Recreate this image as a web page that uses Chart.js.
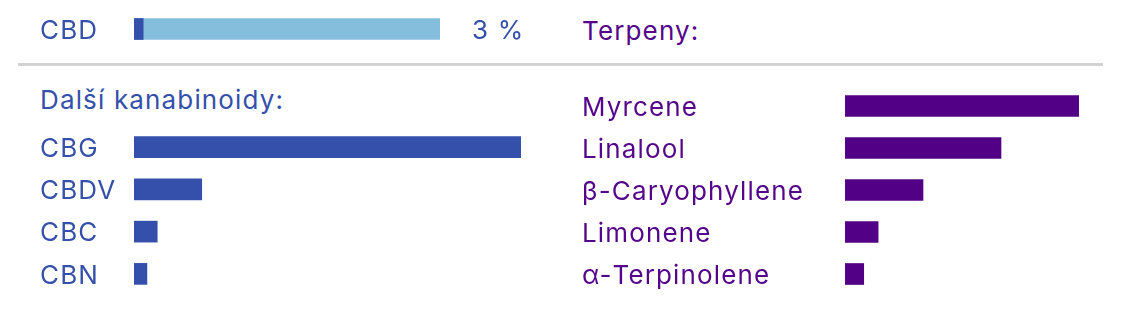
<!DOCTYPE html>
<html lang="cs">
<head>
<meta charset="utf-8">
<title>Kanabinoidy a terpeny</title>
<script src="https://cdn.jsdelivr.net/npm/chart.js@4.4.1/dist/chart.umd.min.js"></script>
<style>
  html, body { margin: 0; padding: 0; background: #fff; width: 1123px; height: 313px; overflow: hidden; }
  canvas { position: absolute; display: block; }
  .head { position: absolute; font-family: Inter, "Noto Sans", sans-serif; font-size: 26px; letter-spacing: 1.15px; line-height: 1; white-space: nowrap; }
  .rule { position: absolute; left: 18px; top: 63px; width: 1085px; height: 3px; background: #d2d2d2; }
</style>
</head>
<body>
<canvas id="cbd" width="500" height="58" style="left:40px;top:0"></canvas>
<div class="rule"></div>
<div class="head" style="left:40px;top:87px;color:#3450ab">Další kanabinoidy:</div>
<div class="head" style="left:582px;top:18px;color:#54058a">Terpeny:</div>
<canvas id="cann" width="481" height="169" style="left:40px;top:126px"></canvas>
<canvas id="terp" width="497" height="210" style="left:582px;top:85px"></canvas>

<script>
// CBD content (percent) shown against a full 0–100 % track
const cbdLabels = ['CBD'];
const cbdValues = [3];
const cbdTrack = [100];

// other cannabinoids
const cannLabels = ['CBG', 'CBDV', 'CBC', 'CBN'];
const cannValues = [0.6, 0.105, 0.036, 0.02];

// terpenes
const terpLabels = ['Myrcene', 'Linalool', 'β-Caryophyllene', 'Limonene', 'α-Terpinolene'];
const terpValues = [0.6, 0.4, 0.2, 0.085, 0.048];

const BLUE = '#3450ab';
const LIGHT_BLUE = '#85bedd';
const PURPLE = '#520085';
const PURPLE_TEXT = '#54058a';
const FONT = { family: 'Inter, "Noto Sans", sans-serif', size: 26, weight: '400' };
const TRACKING = '1.15px';

// open letter spacing for all canvas text
const tracking = {
  id: 'tracking',
  beforeDraw(chart) { chart.ctx.letterSpacing = TRACKING; }
};

function baseOptions(labelWidth, textColor, xMax, padRight) {
  return {
    indexAxis: 'y',
    responsive: false,
    animation: false,
    events: [],
    layout: { padding: { left: 0, right: padRight, top: 0, bottom: 0 } },
    plugins: { legend: { display: false }, tooltip: { enabled: false }, title: { display: false } },
    scales: {
      x: { display: false, min: 0, max: xMax },
      y: {
        grid: { display: false },
        border: { display: false },
        ticks: { color: textColor, font: FONT, crossAlign: 'far', padding: 0, labelOffset: 2 },
        // fixed label column; bars are offset so labels never need edge room
        afterFit(scale) {
          scale.width = labelWidth;
          scale.paddingTop = 0;
          scale.paddingBottom = 0;
        }
      }
    }
  };
}

// value label to the right of the CBD track
const percentLabel = {
  id: 'percentLabel',
  afterDatasetsDraw(chart) {
    const track = chart.getDatasetMeta(1).data[0];
    const ctx = chart.ctx;
    ctx.save();
    ctx.letterSpacing = TRACKING;
    ctx.font = `${FONT.weight} ${FONT.size}px ${FONT.family}`;
    ctx.fillStyle = BLUE;
    ctx.textAlign = 'left';
    ctx.textBaseline = 'middle';
    ctx.fillText(cbdValues[0] + ' %', track.x + 32, track.y + 2);
    ctx.restore();
  }
};

new Chart(document.getElementById('cbd'), {
  type: 'bar',
  data: {
    labels: cbdLabels,
    datasets: [
      { data: cbdValues, backgroundColor: BLUE, barThickness: 21, grouped: false, order: 0 },
      { data: cbdTrack, backgroundColor: LIGHT_BLUE, barThickness: 21, grouped: false, order: 1 }
    ]
  },
  options: baseOptions(94, BLUE, 100, 100),
  plugins: [tracking, percentLabel]
});

new Chart(document.getElementById('cann'), {
  type: 'bar',
  data: {
    labels: cannLabels,
    datasets: [{ data: cannValues, backgroundColor: BLUE, barThickness: 21 }]
  },
  options: baseOptions(94, BLUE, Math.max(...cannValues), 0),
  plugins: [tracking]
});

new Chart(document.getElementById('terp'), {
  type: 'bar',
  data: {
    labels: terpLabels,
    datasets: [{ data: terpValues, backgroundColor: PURPLE, barThickness: 21 }]
  },
  options: baseOptions(263, PURPLE_TEXT, Math.max(...terpValues), 0),
  plugins: [tracking]
});
</script>
</body>
</html>
